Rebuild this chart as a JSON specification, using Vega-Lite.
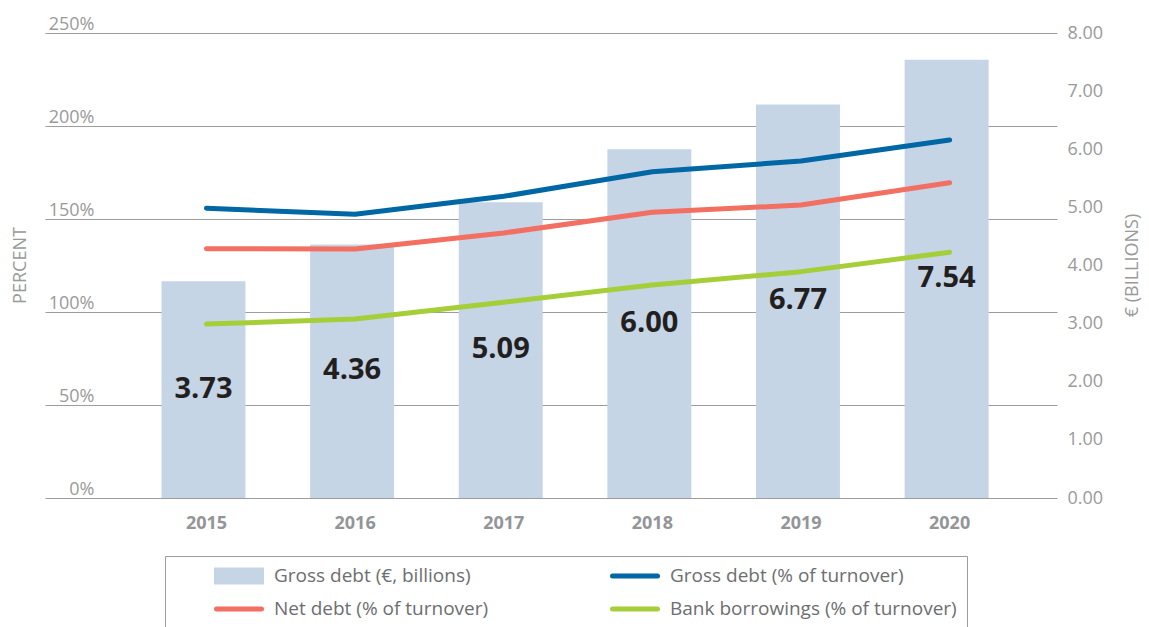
{
  "$schema": "https://vega.github.io/schema/vega-lite/v6.json",
  "width": 1012,
  "height": 465,
  "autosize": {"type": "none"},
  "padding": {"left": 45, "top": 33, "right": 92, "bottom": 129},
  "config": {"view": {"stroke": null}, "font": "Open Sans"},
  "datasets": {
    "bars": [
      {"year": "2015", "debt": 3.73, "series": "Gross debt (€, billions)"},
      {"year": "2016", "debt": 4.36, "series": "Gross debt (€, billions)"},
      {"year": "2017", "debt": 5.09, "series": "Gross debt (€, billions)"},
      {"year": "2018", "debt": 6.00, "series": "Gross debt (€, billions)"},
      {"year": "2019", "debt": 6.77, "series": "Gross debt (€, billions)"},
      {"year": "2020", "debt": 7.54, "series": "Gross debt (€, billions)"}
    ],
    "lines": [
      {"year": "2015", "series": "Gross debt (% of turnover)", "pct": 155.8},
      {"year": "2016", "series": "Gross debt (% of turnover)", "pct": 152.5},
      {"year": "2017", "series": "Gross debt (% of turnover)", "pct": 162.2},
      {"year": "2018", "series": "Gross debt (% of turnover)", "pct": 175.4},
      {"year": "2019", "series": "Gross debt (% of turnover)", "pct": 181.2},
      {"year": "2020", "series": "Gross debt (% of turnover)", "pct": 192.5},
      {"year": "2015", "series": "Net debt (% of turnover)", "pct": 134.0},
      {"year": "2016", "series": "Net debt (% of turnover)", "pct": 133.9},
      {"year": "2017", "series": "Net debt (% of turnover)", "pct": 142.5},
      {"year": "2018", "series": "Net debt (% of turnover)", "pct": 153.6},
      {"year": "2019", "series": "Net debt (% of turnover)", "pct": 157.5},
      {"year": "2020", "series": "Net debt (% of turnover)", "pct": 169.5},
      {"year": "2015", "series": "Bank borrowings (% of turnover)", "pct": 93.5},
      {"year": "2016", "series": "Bank borrowings (% of turnover)", "pct": 96.2},
      {"year": "2017", "series": "Bank borrowings (% of turnover)", "pct": 105.3},
      {"year": "2018", "series": "Bank borrowings (% of turnover)", "pct": 114.5},
      {"year": "2019", "series": "Bank borrowings (% of turnover)", "pct": 121.7},
      {"year": "2020", "series": "Bank borrowings (% of turnover)", "pct": 132.1}
    ]
  },
  "encoding": {
    "x": {
      "field": "year",
      "type": "ordinal",
      "scale": {"paddingInner": 0.435, "paddingOuter": 0.622, "align": 0.63},
      "axis": {
        "title": null,
        "domain": false,
        "ticks": false,
        "tickSize": 0,
        "labelAngle": 0,
        "labelPadding": 16,
        "labelOffset": 3,
        "labelFontSize": 18,
        "labelFontWeight": "bold",
        "labelColor": "#939598"
      }
    }
  },
  "layer": [
    {
      "data": {"name": "bars"},
      "encoding": {
        "y": {
          "type": "quantitative",
          "scale": {"domain": [0, 8], "nice": false},
          "axis": {
            "orient": "right",
            "values": [0, 1, 2, 3, 4, 5, 6, 7, 8],
            "format": ".2f",
            "grid": false,
            "domain": false,
            "ticks": false,
            "tickSize": 0,
            "labelPadding": 10,
            "labelFontSize": 18,
            "labelColor": "#9a9a9a",
            "labelFlush": false,
            "labelOverlap": false,
            "labelBound": false,
            "title": "€ (BILLIONS)",
            "titleFontSize": 18,
            "titleFontWeight": "normal",
            "titleColor": "#9a9a9a",
            "titleAngle": 270,
            "titleX": 75,
            "titleY": 232,
            "titleAlign": "center",
            "titleBaseline": "middle"
          }
        }
      },
      "layer": [
        {
          "mark": {"type": "bar", "color": "#c5d5e6"},
          "encoding": {
            "y": {"field": "debt"},
            "color": {
              "field": "series",
              "type": "nominal",
              "scale": {
                "domain": ["Gross debt (€, billions)", "Gross debt (% of turnover)", "Net debt (% of turnover)", "Bank borrowings (% of turnover)"],
                "range": ["#c5d5e6", "#0067a5", "#f26f61", "#a6ce39"]
              },
              "legend": {
                "orient": "none",
                "legendX": 120,
                "legendY": 523,
                "direction": "horizontal",
                "columns": 2,
                "title": null,
                "padding": 10,
                "strokeColor": "#9d9d9d",
                "symbolSize": 2025,
                "symbolStrokeWidth": 5,
                "symbolOffset": 39,
                "labelOffset": 10,
                "clipHeight": 20,
                "rowPadding": 13,
                "columnPadding": 82,
                "labelFontSize": 19,
                "labelColor": "#6d6e71",
                "labelLimit": 400,
                "encode": {
                  "symbols": {
                    "update": {
                      "shape": {"signal": "datum.value === 'Gross debt (€, billions)' ? 'M-1,-0.27H1V0.27H-1Z' : 'stroke'"},
                      "fill": {"signal": "datum.value === 'Gross debt (€, billions)' ? '#abc1dc' : 'transparent'"},
                      "stroke": {"signal": "datum.value === 'Gross debt (€, billions)' ? 'transparent' : scale('color', datum.value)"},
                      "strokeWidth": {"value": 5},
                      "strokeCap": {"value": "round"},
                      "opacity": {"value": 1}
                    }
                  }
                }
              }
            }
          }
        },
        {
          "transform": [{"calculate": "datum.debt / 2", "as": "mid"}],
          "mark": {"type": "text", "fontSize": 29, "fontWeight": "bold", "color": "#231f20", "baseline": "middle", "dy": -1},
          "encoding": {
            "y": {"field": "mid"},
            "text": {"field": "debt", "type": "quantitative", "format": ".2f"}
          }
        }
      ]
    },
    {
      "data": {"name": "lines"},
      "mark": {"type": "line", "strokeWidth": 5, "strokeCap": "round", "strokeJoin": "round", "xOffset": 3},
      "encoding": {
        "y": {
          "field": "pct",
          "type": "quantitative",
          "scale": {"domain": [0, 250], "nice": false},
          "axis": {
            "orient": "left",
            "values": [0, 50, 100, 150, 200, 250],
            "grid": true,
            "gridColor": "#9d9d9d",
            "gridWidth": 1,
            "domain": false,
            "ticks": false,
            "tickSize": 0,
            "labelAlign": "right",
            "labelBaseline": "alphabetic",
            "labelPadding": -49,
            "labelOffset": -4,
            "labelExpr": "datum.value + '%'",
            "labelFontSize": 18,
            "labelColor": "#9a9a9a",
            "labelFlush": false,
            "labelOverlap": false,
            "labelBound": false,
            "title": "PERCENT",
            "titleFontSize": 18,
            "titleFontWeight": "normal",
            "titleColor": "#9a9a9a",
            "titleAngle": 270,
            "titleX": -25,
            "titleY": 232,
            "titleAlign": "center",
            "titleBaseline": "middle"
          }
        },
        "color": {"field": "series", "type": "nominal"}
      }
    }
  ],
  "resolve": {"scale": {"y": "independent"}}
}
